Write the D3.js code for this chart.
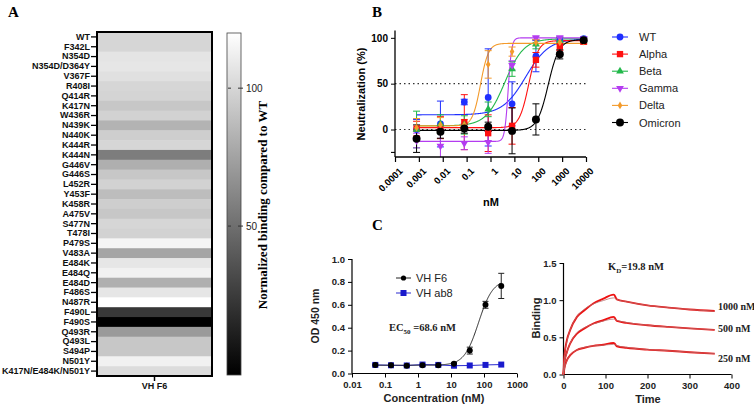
<!DOCTYPE html>
<html>
<head>
<meta charset="utf-8">
<script src="https://cdn.jsdelivr.net/npm/d3@7"></script>
<style>
  html, body { margin: 0; padding: 0; background: #fff; }
  svg { display: block; }
  text { font-family: "Liberation Sans", Arial, sans-serif; }
  .serif { font-family: "Liberation Serif", "Times New Roman", serif; }
</style>
</head>
<body>
<svg id="chart" width="754" height="410"></svg>
<script>
// ---------------- DATA ----------------
// Panel A: normalized binding (% of WT)
const mutants = ["WT","F342L","N354D","N354D/D364Y","V367F","R408I","Q414R","K417N","W436R","N439K",
  "N440K","K444R","K444N","G446V","G446S","L452R","Y453F","K458R","A475V","S477N","T478I","P479S",
  "V483A","E484K","E484Q","E484D","F486S","N487R","F490L","F490S","Q493R","Q493L","S494P","N501Y",
  "K417N/E484K/N501Y"];
const bindingVHF6 = [100,100,107,108,105,100,99,93,98,83,96,100,57,81,93,98,88,96,93,100,98,115,
  76,108,113,81,108,120,23,-4,71,93,93,113,103];
const heatColumns = ["VH F6"];
const colorbarTicks = [50, 100];

// Panel B: neutralization (%)
const neutConc = [0.0008,0.008,0.08,0.8,8,80,800,8000];
const neutSeries = ["WT","Alpha","Beta","Gamma","Delta","Omicron"];
const neutWT      = [0, 6, 30, 35, 28, 80, 97, 99];
const neutAlpha   = [1, 2, 8, -4, 4, 76, 91, 96];
const neutBeta    = [0, 6, 5, 22, 66, 93, 97, 98];
const neutGamma   = [-12, -18, -15, -14, 70, 100, 100, 99];
const neutDelta   = [2, 5, 5, 71, 85, 95, 95, 96];
const neutOmicron = [-10, -2.5, 1, 3, -1.5, 11, 82, 97.5];
const sdWT      = [11, 25, 3, 53, 24, 17, 4, 2];
const sdAlpha   = [8, 12, 30, 20, 20, 8, 5, 3];
const sdBeta    = [20, 10, 10, 8, 8, 5, 3, 2];
const sdGamma   = [8, 20, 7, 12, 5, 2, 2, 2];
const sdDelta   = [10, 8, 6, 15, 5, 3, 2, 2];
const sdOmicron = [15, 7, 5, 5, 25, 17, 5, 3];
// 4-parameter fit: [bottom, top, EC50 (nM), Hill slope]
const fitWT      = [16, 99, 30, 0.9];
const fitAlpha   = [2, 97, 40, 2.2];
const fitBeta    = [4, 99, 4, 1.1];
const fitGamma   = [-13, 100, 5.5, 6];
const fitDelta   = [4, 94, 0.38, 2.6];
const fitOmicron = [-1, 98, 260, 1.9];
const neutXTickValues = [0.0001,0.001,0.01,0.1,1,10,100,1000,10000];
const neutXTickLabels = ["0.0001","0.001","0.01","0.1","1","10","100","1000","10000"];
const neutYTickValues = [0, 50, 100];

// Panel C left: ELISA OD450
const elisaConc = [0.0508,0.152,0.457,1.37,4.12,12.3,37,111,333];
const odVHF6 = [0.075,0.072,0.068,0.072,0.073,0.085,0.2,0.6,0.765];
const sdVHF6 = [0.008,0.005,0.008,0.01,0.005,0.01,0.03,0.03,0.11];
const odVHab8 = [0.075,0.072,0.07,0.078,0.075,0.068,0.07,0.075,0.078];
const fitVHF6 = [0.072, 0.82, 68.6, 2.0];
const elisaXTicks = [0.01,0.1,1,10,100,1000];
const elisaXLabels = ["0.01","0.1","1","10","100","1000"];
const elisaYTicks = [0,0.2,0.4,0.6,0.8,1.0];

// Panel C right: BLI sensorgrams
const sprTime = [0,2,8,16,32,50,71,95,119,121,127,150,200,250,300,360];
const raw1000 = [0,0.24,0.46,0.6,0.775,0.865,0.955,1.02,1.075,1.07,1.01,0.98,0.93,0.9,0.875,0.855];
const raw500  = [0,0.15,0.3,0.42,0.55,0.62,0.686,0.73,0.775,0.77,0.72,0.695,0.663,0.64,0.62,0.6];
const raw250  = [0,0.08,0.19,0.26,0.33,0.36,0.385,0.40,0.425,0.42,0.38,0.36,0.335,0.32,0.30,0.28];
const fit1000 = [0,0.22,0.44,0.6,0.78,0.88,0.95,0.995,1.03,1.03,1.01,0.98,0.93,0.9,0.875,0.85];
const fit500  = [0,0.14,0.29,0.42,0.56,0.63,0.68,0.72,0.745,0.745,0.73,0.7,0.663,0.64,0.62,0.6];
const fit250  = [0,0.07,0.18,0.26,0.33,0.365,0.385,0.395,0.405,0.405,0.39,0.365,0.335,0.32,0.3,0.28];
const sprLabels = ["1000 nM","500 nM","250 nM"];
const sprXTicks = [0,100,200,300,400];
const sprYTicks = [0,0.5,1.0,1.5];

// ---------------- DRAW ----------------
const svg = d3.select("#chart");
svg.append("rect").attr("width",754).attr("height",410).attr("fill","#fff");

// Panel letters
[["A",8,17],["B",372,17],["C",372,230]].forEach(([t,x,y]) =>
  svg.append("text").attr("class","serif").attr("x",x).attr("y",y)
    .attr("font-size",15).attr("font-weight","bold").text(t));

// ===== Panel A =====
const A = svg.append("g");
const ay = d3.scaleBand().domain(mutants).range([32, 376]);
const ax = d3.scaleBand().domain(heatColumns).range([97, 212]);
const gray = d3.scaleLinear().domain([-4, 120]).range(["#000000", "#ffffff"]);
A.selectAll("rect.cell").data(mutants).join("rect").attr("class","cell")
  .attr("x", ax("VH F6")).attr("width", ax.bandwidth())
  .attr("y", d => ay(d)).attr("height", ay.bandwidth() + 0.5)
  .attr("fill", (d,i) => gray(bindingVHF6[i]));
A.append("rect").attr("x",97).attr("y",32).attr("width",115).attr("height",344)
  .attr("fill","none").attr("stroke","#000").attr("stroke-width",2);
const aLeft = A.append("g").attr("transform","translate(96,0)")
  .call(d3.axisLeft(ay).tickSize(5).tickPadding(1));
aLeft.select(".domain").remove();
aLeft.selectAll("line").attr("stroke","#000").attr("stroke-width",1.3);
aLeft.selectAll("text").attr("font-size",9).attr("font-weight","bold").attr("fill","#111");
const aBottom = A.append("g").attr("transform","translate(0,377)")
  .call(d3.axisBottom(ax).tickSize(4).tickPadding(2));
aBottom.select(".domain").remove();
aBottom.selectAll("line").attr("stroke","#000").attr("stroke-width",1.5);
aBottom.selectAll("text").attr("font-size",9).attr("font-weight","bold").attr("fill","#111");

// colorbar
const defs = svg.append("defs");
const grad = defs.append("linearGradient").attr("id","cbar").attr("x1",0).attr("x2",0).attr("y1",1).attr("y2",0);
grad.append("stop").attr("offset","0%").attr("stop-color","#000");
grad.append("stop").attr("offset","100%").attr("stop-color","#fff");
const cb = d3.scaleLinear().domain([-4, 120]).range([375, 33]);
A.append("rect").attr("x",227).attr("y",33).attr("width",14).attr("height",342)
  .attr("fill","url(#cbar)").attr("stroke","#444").attr("stroke-width",0.8);
colorbarTicks.forEach(v => {
  A.append("line").attr("x1",228).attr("x2",231).attr("y1",cb(v)).attr("y2",cb(v)).attr("stroke","#333");
  A.append("line").attr("x1",238).attr("x2",243).attr("y1",cb(v)).attr("y2",cb(v)).attr("stroke","#333");
  A.append("text").attr("x",246).attr("y",cb(v)+3.5).attr("font-size",10).attr("fill","#222").text(v);
});
A.append("text").attr("class","serif")
  .attr("transform","translate(267,205) rotate(-90)").attr("text-anchor","middle")
  .attr("font-size",13).attr("font-weight","bold").text("Normalized binding compared to WT");

// ===== Panel B =====
const B = svg.append("g");
const bx = d3.scaleLog().domain([1e-4, 1e4]).range([395, 586]);
const by = d3.scaleLinear().domain([-30, 108]).range([157, 30.5]);
const colors = {WT:"#1f2fff", Alpha:"#ff1010", Beta:"#22b84a", Gamma:"#b43cf0", Delta:"#f39a2b", Omicron:"#000000"};
const symbols = {WT:d3.symbolCircle, Alpha:d3.symbolSquare, Beta:d3.symbolTriangle, Gamma:d3.symbolTriangle, Delta:d3.symbolDiamond, Omicron:d3.symbolCircle};
const symSize = {WT:36, Alpha:40, Beta:26, Gamma:26, Delta:18, Omicron:50};
const values = {WT:neutWT, Alpha:neutAlpha, Beta:neutBeta, Gamma:neutGamma, Delta:neutDelta, Omicron:neutOmicron};
const sds = {WT:sdWT, Alpha:sdAlpha, Beta:sdBeta, Gamma:sdGamma, Delta:sdDelta, Omicron:sdOmicron};
const fits = {WT:fitWT, Alpha:fitAlpha, Beta:fitBeta, Gamma:fitGamma, Delta:fitDelta, Omicron:fitOmicron};

// dotted reference lines
[50, 0].forEach(v => B.append("line").attr("x1",395).attr("x2",586).attr("y1",by(v)).attr("y2",by(v))
  .attr("stroke","#333").attr("stroke-width",1.1).attr("stroke-dasharray","1.5,3"));

const clipB = defs.append("clipPath").attr("id","clipB");
clipB.append("rect").attr("x",395).attr("y",25).attr("width",200).attr("height",132);

const logGrid = d3.range(Math.log10(0.0008), Math.log10(8000) + 0.0001, 0.01).map(e => Math.pow(10, e));
const logistic = (p, x) => p[0] + (p[1] - p[0]) / (1 + Math.pow(p[2] / x, p[3]));
const gB = B.append("g").attr("clip-path","url(#clipB)");
neutSeries.forEach(s => {
  const p = fits[s];
  gB.append("path").datum(logGrid)
    .attr("d", d3.line().x(d => bx(d)).y(d => by(logistic(p, d))))
    .attr("fill","none").attr("stroke", colors[s]).attr("stroke-width",1.1);
});
neutSeries.forEach(s => {
  const col = colors[s];
  neutConc.forEach((c, i) => {
    const v = values[s][i], e = sds[s][i];
    const x = bx(c);
    gB.append("line").attr("x1",x).attr("x2",x).attr("y1",by(v-e)).attr("y2",by(v+e)).attr("stroke",col).attr("stroke-width",1);
    [v-e, v+e].forEach(w => gB.append("line").attr("x1",x-3.5).attr("x2",x+3.5).attr("y1",by(w)).attr("y2",by(w)).attr("stroke",col).attr("stroke-width",1));
  });
});
neutSeries.forEach(s => {
  neutConc.forEach((c, i) => {
    gB.append("path").attr("d", d3.symbol(symbols[s], symSize[s])())
      .attr("transform", `translate(${bx(c)},${by(values[s][i])})` + (s === "Gamma" ? " rotate(180)" : ""))
      .attr("fill", colors[s]);
  });
});
// axes
const bAxY = B.append("g").attr("transform","translate(395,0)")
  .call(d3.axisLeft(by).tickValues(neutYTickValues).tickSize(4).tickPadding(3));
bAxY.select(".domain").attr("d","M0,30.5V157").attr("stroke-width",1.3);
bAxY.selectAll("text").attr("font-size",10).attr("font-weight","bold");
B.append("line").attr("x1",391).attr("x2",395).attr("y1",by(-25)).attr("y2",by(-25)).attr("stroke","#000").attr("stroke-width",1.1);
const bAxX = B.append("g").attr("transform","translate(0,157)")
  .call(d3.axisBottom(bx).tickValues(neutXTickValues).tickFormat((d,i) => neutXTickLabels[i]).tickSize(5));
bAxX.select(".domain").attr("d","M395,0H586").attr("stroke-width",1.3);
bAxX.selectAll("line").attr("stroke-width",1.2);
bAxX.selectAll("text").attr("font-size",9.5).attr("font-weight","bold")
  .attr("text-anchor","end").attr("dy",0).attr("transform","translate(2,9) rotate(-45)");
B.append("text").attr("x",491).attr("y",206).attr("text-anchor","middle")
  .attr("font-size",11).attr("font-weight","bold").text("nM");
B.append("text").attr("transform","translate(365,94) rotate(-90)").attr("text-anchor","middle")
  .attr("font-size",11).attr("font-weight","bold").text("Neutralization (%)");
// legend
neutSeries.forEach((s, i) => {
  const y = 37 + i * 17.1;
  B.append("line").attr("x1",612).attr("x2",628).attr("y1",y).attr("y2",y).attr("stroke",colors[s]).attr("stroke-width",1.1);
  B.append("path").attr("d", d3.symbol(symbols[s], symSize[s])())
    .attr("transform", `translate(620,${y})` + (s === "Gamma" ? " rotate(180)" : "")).attr("fill",colors[s]);
  B.append("text").attr("x",639).attr("y",y+4).attr("font-size",11).attr("fill","#222").text(s);
});

// ===== Panel C left =====
const CL = svg.append("g");
const cx = d3.scaleLog().domain([0.01, 1000]).range([352, 517]);
const cy = d3.scaleLinear().domain([0, 1.0]).range([373.5, 259]);
const cyAx = CL.append("g").attr("transform","translate(352,0)")
  .call(d3.axisLeft(cy).tickValues(elisaYTicks).tickFormat(d3.format(".1f")).tickSize(4).tickPadding(3));
cyAx.select(".domain").attr("d","M0,259V373.5").attr("stroke-width",1.2);
cyAx.selectAll("text").attr("font-size",9.5).attr("font-weight","bold").attr("fill","#222");
const cxAx = CL.append("g").attr("transform","translate(0,373.5)")
  .call(d3.axisBottom(cx).tickValues(elisaXTicks).tickFormat((d,i) => elisaXLabels[i]).tickSize(4).tickPadding(4));
cxAx.select(".domain").attr("d","M352,0H517").attr("stroke-width",1.2);
cxAx.selectAll("text").attr("font-size",9.5).attr("font-weight","bold").attr("fill","#222");
CL.append("text").attr("x",434).attr("y",402).attr("text-anchor","middle")
  .attr("font-size",11).attr("font-weight","bold").attr("fill","#222").text("Concentration (nM)");
CL.append("text").attr("transform","translate(319,316) rotate(-90)").attr("text-anchor","middle")
  .attr("font-size",10.5).attr("font-weight","bold").attr("fill","#222").text("OD 450 nm");
// ab8 connecting line
CL.append("path").datum(elisaConc.map((c,i) => [c, odVHab8[i]]))
  .attr("d", d3.line().x(d => cx(d[0])).y(d => cy(d[1])))
  .attr("fill","none").attr("stroke","#2a2ad0").attr("stroke-width",1);
// F6 fit curve
const elisaGrid = d3.range(Math.log10(0.0508), Math.log10(333) + 0.0001, 0.01).map(e => Math.pow(10, e));
CL.append("path").datum(elisaGrid)
  .attr("d", d3.line().x(d => cx(d)).y(d => cy(logistic(fitVHF6, d))))
  .attr("fill","none").attr("stroke","#222").attr("stroke-width",1);
elisaConc.forEach((c, i) => {
  const x = cx(c), v = odVHF6[i], e = sdVHF6[i];
  CL.append("line").attr("x1",x).attr("x2",x).attr("y1",cy(v-e)).attr("y2",cy(v+e)).attr("stroke","#222");
  [v-e, v+e].forEach(w => CL.append("line").attr("x1",x-3).attr("x2",x+3).attr("y1",cy(w)).attr("y2",cy(w)).attr("stroke","#222"));
});
elisaConc.forEach((c, i) => {
  CL.append("rect").attr("x",cx(c)-3).attr("y",cy(odVHab8[i])-3).attr("width",6).attr("height",6).attr("fill","#1a1acc");
});
elisaConc.forEach((c, i) => {
  CL.append("circle").attr("cx",cx(c)).attr("cy",cy(odVHF6[i])).attr("r",3).attr("fill","#000");
});
// legend
[["VH F6","#222","circle",278],["VH ab8","#2a2ad0","square",293]].forEach(([t,col,shape,y]) => {
  CL.append("line").attr("x1",396).attr("x2",411).attr("y1",y).attr("y2",y).attr("stroke",col);
  if (shape === "circle") CL.append("circle").attr("cx",403.5).attr("cy",y).attr("r",2.6).attr("fill","#000");
  else CL.append("rect").attr("x",400.5).attr("y",y-3).attr("width",6).attr("height",6).attr("fill","#1a1acc");
  CL.append("text").attr("x",416).attr("y",y+4).attr("font-size",11).attr("fill","#222").text(t);
});
const ec = CL.append("text").attr("class","serif").attr("x",389).attr("y",331)
  .attr("font-size",10.5).attr("font-weight","bold").attr("fill","#222");
ec.append("tspan").text("EC");
ec.append("tspan").attr("font-size",7).attr("dy",2.5).text("50");
ec.append("tspan").attr("dy",-2.5).text(" =68.6 nM");

// ===== Panel C right =====
const CR = svg.append("g");
const sx = d3.scaleLinear().domain([0, 400]).range([563.5, 731.5]);
const sy = d3.scaleLinear().domain([0, 1.5]).range([374.5, 263]);
const sxAx = CR.append("g").attr("transform","translate(0,374.5)")
  .call(d3.axisBottom(sx).tickValues(sprXTicks).tickSize(4).tickPadding(4));
sxAx.select(".domain").attr("d","M563.5,0H731.5").attr("stroke-width",1.2);
sxAx.selectAll("text").attr("font-size",9.5).attr("font-weight","bold").attr("fill","#222");
const syAx = CR.append("g").attr("transform","translate(563.5,0)")
  .call(d3.axisLeft(sy).tickValues(sprYTicks).tickFormat(d3.format(".1f")).tickSize(4).tickPadding(3));
syAx.select(".domain").attr("d","M0,263V374.5").attr("stroke-width",1.2);
syAx.selectAll("text").attr("font-size",9.5).attr("font-weight","bold").attr("fill","#222");
CR.append("text").attr("x",648).attr("y",403).attr("text-anchor","middle")
  .attr("font-size",11).attr("font-weight","bold").attr("fill","#222").text("Time");
CR.append("text").attr("transform","translate(540,318) rotate(-90)").attr("text-anchor","middle")
  .attr("font-size",11).attr("font-weight","bold").attr("fill","#222").text("Binding");
const sprLine = d3.line().x((d,i) => sx(sprTime[i])).y(d => sy(d)).curve(d3.curveMonotoneX);
[raw1000, raw500, raw250].forEach(arr => CR.append("path").datum(arr).attr("d", sprLine)
  .attr("fill","none").attr("stroke","#ee1111").attr("stroke-width",1.9));
[fit1000, fit500, fit250].forEach(arr => CR.append("path").datum(arr).attr("d", sprLine)
  .attr("fill","none").attr("stroke","#b86a6a").attr("stroke-width",0.9).attr("opacity",0.85));
const endVals = [raw1000, raw500, raw250].map(a => a[a.length-1]);
sprLabels.forEach((t, i) => CR.append("text").attr("class","serif").attr("x",718)
  .attr("y", sy(endVals[i]) + [-0.5, 2, 8][i]).attr("font-size",10).attr("font-weight","bold").attr("fill","#222").text(t));
const kd = CR.append("text").attr("class","serif").attr("x",608).attr("y",270)
  .attr("font-size",10.5).attr("font-weight","bold").attr("fill","#222");
kd.append("tspan").text("K");
kd.append("tspan").attr("font-size",7).attr("dy",2.5).text("D");
kd.append("tspan").attr("dy",-2.5).text("=19.8 nM");
</script>
</body>
</html>
